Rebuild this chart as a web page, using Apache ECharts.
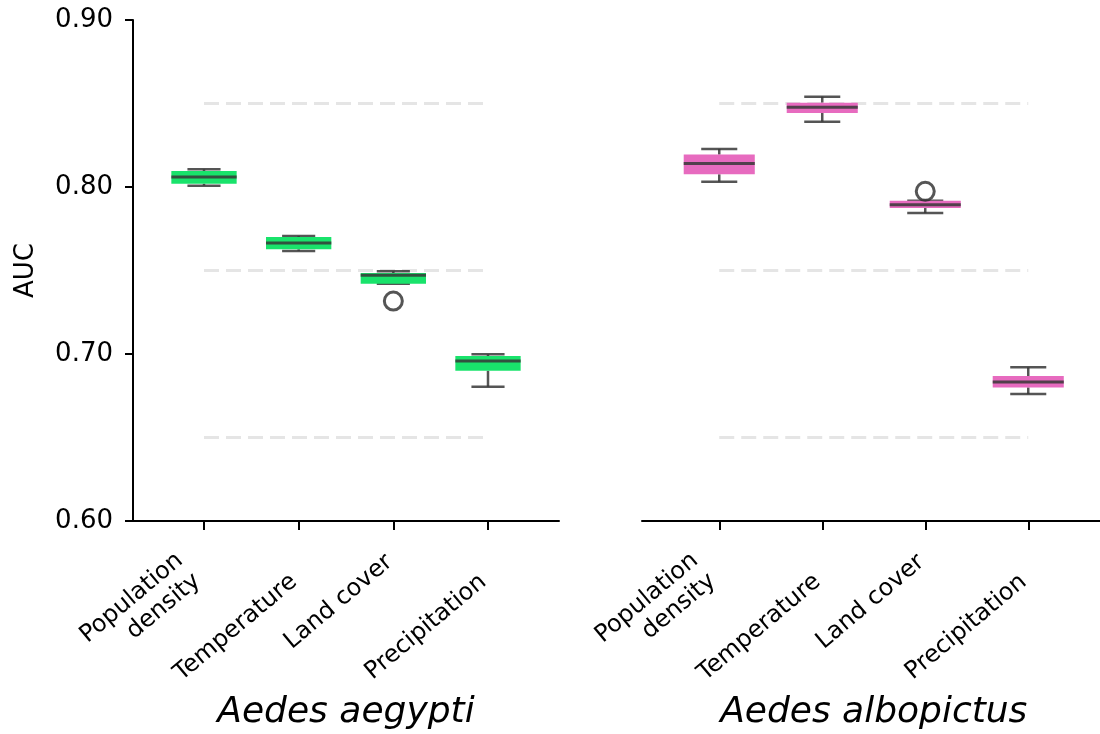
<!DOCTYPE html>
<html>
<head>
<meta charset="utf-8">
<script src="https://cdn.jsdelivr.net/npm/echarts@6/dist/echarts.min.js"></script>
<style>
html,body{margin:0;padding:0;background:#fff;}
#chart{width:1100px;height:734px;}
</style>
</head>
<body>
<div id="chart"></div>
<script>
// ---- data ----
const categories = ['Population\ndensity', 'Temperature', 'Land cover', 'Precipitation'];
const yTicks = [0.60, 0.70, 0.80, 0.90];
const refLevels = [0.65, 0.75, 0.85];

const aegyptiMin    = [0.8008, 0.7617, 0.7421, 0.6804];
const aegyptiQ1     = [0.8020, 0.7627, 0.7421, 0.6900];
const aegyptiMedian = [0.8060, 0.7665, 0.7471, 0.6958];
const aegyptiQ3     = [0.8096, 0.7700, 0.7485, 0.6988];
const aegyptiMax    = [0.8106, 0.7707, 0.7495, 0.6998];
const aegyptiOutliers = [[2, 0.7317]];

const albopictusMin    = [0.8032, 0.8391, 0.7844, 0.6760];
const albopictusQ1     = [0.8076, 0.8443, 0.7874, 0.6800];
const albopictusMedian = [0.8140, 0.8477, 0.7894, 0.6832];
const albopictusQ3     = [0.8194, 0.8505, 0.7918, 0.6868];
const albopictusMax    = [0.8228, 0.8541, 0.7918, 0.6920];
const albopictusOutliers = [[2, 0.7974]];

// ---- build ----
const FONT = 'DejaVu Sans';
const lineCol = 'rgba(55,55,55,0.85)';
const catIdx = categories.map((c, i) => i);

function boxData(mn, q1, md, q3, mx) {
  return categories.map((c, i) => [i, mn[i], q1[i], md[i], q3[i], mx[i]]);
}

function makeRender(fill) {
  return function (params, api) {
    const x = api.value(0);
    const mn = api.value(1), q1 = api.value(2), md = api.value(3), q3 = api.value(4), mx = api.value(5);
    const boxW = api.size([0.69, 0])[0];
    const capW = api.size([0.35, 0])[0];
    const pMin = api.coord([x, mn]), pQ1 = api.coord([x, q1]), pMd = api.coord([x, md]);
    const pQ3 = api.coord([x, q3]), pMax = api.coord([x, mx]);
    const cx = pMd[0];
    const ls = { stroke: lineCol, lineWidth: 2.5 };
    const children = [];
    children.push({ type: 'line', shape: { x1: cx, y1: pQ1[1], x2: cx, y2: pMin[1] }, style: ls });
    children.push({ type: 'line', shape: { x1: cx - capW / 2, y1: pMin[1], x2: cx + capW / 2, y2: pMin[1] }, style: ls });
    children.push({ type: 'line', shape: { x1: cx, y1: pQ3[1], x2: cx, y2: pMax[1] }, style: ls });
    children.push({ type: 'line', shape: { x1: cx - capW / 2, y1: pMax[1], x2: cx + capW / 2, y2: pMax[1] }, style: ls });
    children.push({ type: 'rect', shape: { x: cx - boxW / 2, y: pQ3[1], width: boxW, height: pQ1[1] - pQ3[1] }, style: { fill: fill } });
    children.push({ type: 'line', shape: { x1: cx - boxW / 2, y1: pMd[1], x2: cx + boxW / 2, y2: pMd[1] }, style: { stroke: lineCol, lineWidth: 3 } });
    return { type: 'group', children: children };
  };
}

function refSeries(gi) {
  return refLevels.map(v => ({
    type: 'line', xAxisIndex: gi * 4, yAxisIndex: gi, silent: true, symbol: 'none', z: 1,
    data: [[catIdx[0], v], [catIdx[catIdx.length - 1], v]],
    lineStyle: { color: '#e5e5e5', width: 3, type: [15, 7] }
  }));
}

const labelBase = { rotate: 40, fontFamily: FONT, fontSize: 24, color: '#000', lineHeight: 27,
                    formatter: v => categories[Math.round(v)] };

// main axis: line + ticks, no labels; extra axes: labels only at different offsets
function xAxes(gi, name) {
  const hidden = { show: false };
  return [
    {
      type: 'value', gridIndex: gi, position: 'bottom', min: -0.75, max: 3.75,
      splitLine: hidden,
      axisLine: { show: true, onZero: false, lineStyle: { color: '#000', width: 2 } },
      axisTick: { show: true, customValues: catIdx, length: 9, lineStyle: { color: '#000', width: 2 } },
      axisLabel: { show: false, customValues: catIdx },
      name: name, nameLocation: 'middle', nameGap: 174,
      nameTextStyle: { fontFamily: FONT, fontSize: 36, fontStyle: 'italic', color: '#000' }
    },
    {
      type: 'value', gridIndex: gi, position: 'bottom', min: -0.75, max: 3.75,
      splitLine: hidden, axisLine: { show: false, onZero: false }, axisTick: hidden,
      axisLabel: Object.assign({}, labelBase, { customValues: [0], margin: 34, padding: [0, 20, 0, 0] })
    },
    {
      type: 'value', gridIndex: gi, position: 'bottom', min: -0.75, max: 3.75,
      splitLine: hidden, axisLine: { show: false, onZero: false }, axisTick: hidden,
      axisLabel: Object.assign({}, labelBase, { customValues: [2], margin: 35, padding: [0, 5, 0, 0] })
    },
    {
      type: 'value', gridIndex: gi, position: 'bottom', min: -0.75, max: 3.75,
      splitLine: hidden, axisLine: { show: false, onZero: false }, axisTick: hidden,
      axisLabel: Object.assign({}, labelBase, { customValues: [1, 3], margin: 54, padding: [0, 6, 0, 0] })
    }
  ];
}

function yAxis(gi, show) {
  return {
    type: 'value', gridIndex: gi, min: yTicks[0], max: yTicks[yTicks.length - 1], interval: 0.1,
    show: show,
    splitLine: { show: false },
    axisLine: { show: true, onZero: false, lineStyle: { color: '#000', width: 2 } },
    axisTick: { show: true, length: 8, lineStyle: { color: '#000', width: 2 } },
    axisLabel: { formatter: v => v.toFixed(2), fontFamily: FONT, fontSize: 26, color: '#000', margin: 20 },
    name: show ? 'AUC' : '', nameLocation: 'middle', nameGap: 94, nameRotate: 90,
    nameTextStyle: { fontFamily: FONT, fontSize: 26, color: '#000' }
  };
}

const option = {
  animation: false,
  backgroundColor: '#fff',
  grid: [
    { left: 133, top: 20, width: 426, height: 501, containLabel: false, outerBoundsMode: 'none' },
    { left: 642, top: 20, width: 463.5, height: 501, containLabel: false, outerBoundsMode: 'none' }
  ],
  xAxis: [...xAxes(0, 'Aedes aegypti'), ...xAxes(1, 'Aedes albopictus')],
  yAxis: [yAxis(0, true), yAxis(1, false)],
  series: [
    ...refSeries(0), ...refSeries(1),
    {
      type: 'custom', xAxisIndex: 0, yAxisIndex: 0, z: 3,
      renderItem: makeRender('#19e36b'),
      encode: { x: 0, y: [1, 2, 3, 4, 5] },
      data: boxData(aegyptiMin, aegyptiQ1, aegyptiMedian, aegyptiQ3, aegyptiMax)
    },
    {
      type: 'custom', xAxisIndex: 4, yAxisIndex: 1, z: 3,
      renderItem: makeRender('#e76bbf'),
      encode: { x: 0, y: [1, 2, 3, 4, 5] },
      data: boxData(albopictusMin, albopictusQ1, albopictusMedian, albopictusQ3, albopictusMax)
    },
    {
      type: 'scatter', xAxisIndex: 0, yAxisIndex: 0, z: 4, symbol: 'circle', symbolSize: 18,
      itemStyle: { color: 'rgba(255,255,255,0)', borderColor: '#2a2a2a', borderWidth: 3 },
      data: aegyptiOutliers
    },
    {
      type: 'scatter', xAxisIndex: 4, yAxisIndex: 1, z: 4, symbol: 'circle', symbolSize: 18,
      itemStyle: { color: 'rgba(255,255,255,0)', borderColor: '#2a2a2a', borderWidth: 3 },
      data: albopictusOutliers
    }
  ]
};

const chart = echarts.init(document.getElementById('chart'), null, { renderer: 'canvas' });
chart.setOption(option);
</script>
</body>
</html>
